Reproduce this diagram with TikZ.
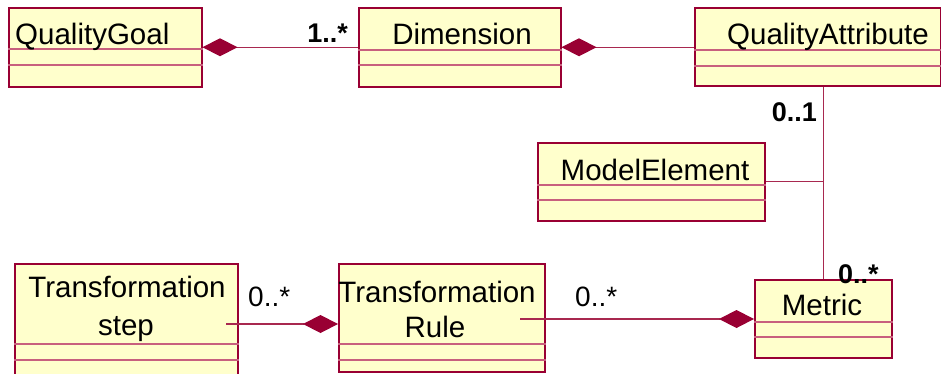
\documentclass[tikz,border=0pt]{standalone}
\usepackage{fontspec}
\setmainfont{Liberation Sans}
\usetikzlibrary{arrows.meta}
\definecolor{umlfill}{HTML}{FFFFCC}
\definecolor{umlline}{HTML}{990033}
\definecolor{umldiv}{HTML}{C8607E}
\definecolor{umlconn}{HTML}{A8284F}

% horizontal compartment rules of a class box, offsets measured from its top
\newcommand\classrules[3]{%
  \draw[divider] ([yshift=-#2pt]#1.north west) -- ([yshift=-#2pt]#1.north east);
  \draw[divider] ([yshift=-#3pt]#1.north west) -- ([yshift=-#3pt]#1.north east);
}

\begin{document}
\begin{tikzpicture}[x=1pt,y=-1pt,
  classbox/.style 2 args={draw=umlline, fill=umlfill, line width=1.5pt,
    anchor=north west, inner sep=0pt, minimum width=#1pt, minimum height=#2pt},
  divider/.style={draw=umldiv, line width=1.1pt},
  cls/.style={inner sep=0pt, font=\fontsize{29.5}{34}\selectfont},
  mult/.style={inner sep=0pt, font=\fontsize{28}{32}\selectfont},
  multb/.style={inner sep=0pt, font=\fontsize{27}{32}\selectfont\bfseries},
  conn/.style={draw=umlconn, line width=1.3pt},
  comp/.style={-{Diamond[length=35pt,width=18pt,fill=umlline,color=umlline]}}]

\useasboundingbox (0,0) rectangle (941,373);
\clip (0,0) rectangle (941,373);

% class boxes
\node[classbox={193}{79}]  (qg)  at (8,7)     {};
\node[classbox={202}{79}]  (dim) at (358,7)   {};
\node[classbox={246}{78}]  (qa)  at (694,7)   {};
\node[classbox={227}{78}]  (me)  at (537,142) {};
\node[classbox={137}{78}]  (met) at (754,279) {};
\node[classbox={206}{108}] (tr)  at (338,263) {};
\node[classbox={223}{115}] (ts)  at (14,263)  {};

\classrules{qg}{42}{58}
\classrules{dim}{43}{58}
\classrules{qa}{43}{59}
\classrules{me}{43}{58}
\classrules{met}{43}{58}
\classrules{tr}{81}{97}
\classrules{ts}{81}{97}

% class names
\node[cls, anchor=base west] (qgname)  at (15,44)  {QualityGoal};
\node[cls, anchor=base]      (dimname) at (462,44) {Dimension};
\node[cls, anchor=base]      (qaname)  at (828,44) {QualityAttribute};
\node[cls, anchor=base]      (mename)  at (655,180) {ModelElement};
\node[cls, anchor=base]      (metname) at (822,315) {Metric};
\node[cls, anchor=base]      (tsname1) at (127,297) {Transformation};
\node[cls, anchor=base]      (tsname2) at (126,335) {step};
\node[cls, anchor=base]      (trname1) at (437,302) {Transformation};
\node[cls, anchor=base]      (trname2) at (435,337) {Rule};

% associations
\draw[conn, comp] (dim.west) -- (qg.east);
\draw[conn, comp] (dim.east -| qa.west) -- (dim.east);
\draw[conn] (qa.south -| met.north) -- (met.north);
\coordinate (joint) at (me.east -| met.north);
\draw[conn] (me.east) -- (joint);
\coordinate (tsend) at (226,324);
\draw[conn, comp] (tsend) -- (tsend -| tr.west);
\coordinate (trend) at (520,319);
\draw[conn, comp] (trend) -- (trend -| met.west);

% multiplicities
\node[multb, anchor=base east] (m1) at (348,42)  {1..*};
\node[multb, anchor=base east] (m2) at (817,121) {0..1};
\node[multb, anchor=base west] (m3) at (838,283) {0..*};
\node[mult,  anchor=base west] (m4) at (248,306) {0..*};
\node[mult,  anchor=base west] (m5) at (575,306) {0..*};
\end{tikzpicture}
\end{document}
